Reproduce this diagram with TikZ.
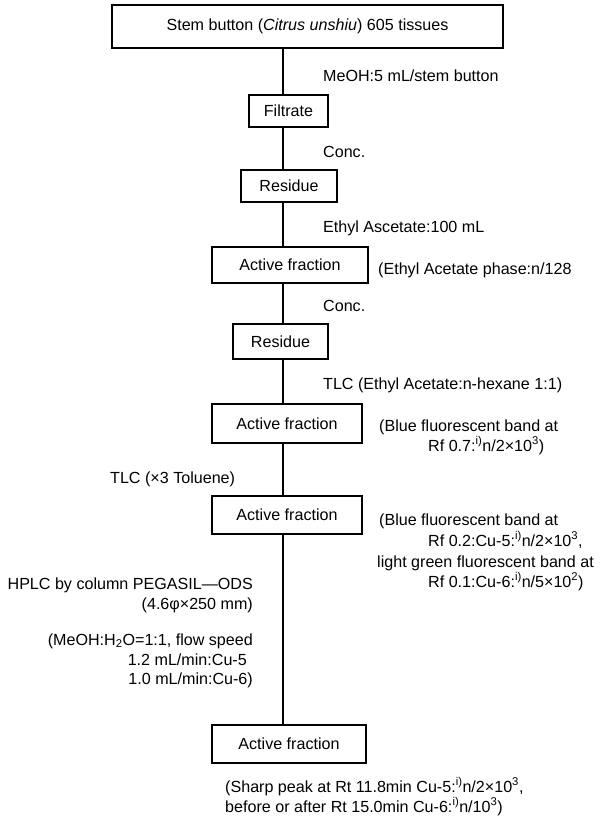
\documentclass[tikz,border=0pt]{standalone}
\usepackage{fontspec}
\setmainfont{Liberation Sans}
\begin{document}
\begin{tikzpicture}[x=1pt,y=-1pt,
  font=\fontsize{16.1}{19.5}\selectfont,
  box/.style={draw,line width=1.2pt,inner sep=0pt,align=center},
  conn/.style={line width=1.1pt},
  lbl/.style={inner sep=0pt,anchor=base west},
  lblr/.style={inner sep=0pt,anchor=base east}]
\useasboundingbox (0,0) rectangle (599,818);
\coordinate (spine) at (283,0);
% boxes
\node[box,minimum width=391pt,minimum height=43pt] (b1) at (307.5,26.5) {Stem button (\textit{Citrus unshiu}) 605 tissues};
\node[box,minimum width=79pt,minimum height=32pt] (b2) at (288.5,111) {Filtrate};
\node[box,minimum width=96pt,minimum height=32pt] (b3) at (289,186) {Residue};
\node[box,minimum width=156pt,minimum height=36pt] (b4) at (290,265) {Active fraction};
\node[box,minimum width=95pt,minimum height=35pt] (b5) at (280.5,341.5) {Residue};
\node[box,minimum width=150pt,minimum height=39pt] (b6) at (287,423.5) {Active fraction};
\node[box,minimum width=150pt,minimum height=38pt] (b7) at (287,515) {Active fraction};
\node[box,minimum width=154pt,minimum height=38pt] (b8) at (289,744) {Active fraction};
% connectors
\draw[conn] (b1.south -| spine) -- (b2.north -| spine);
\draw[conn] (b2.south -| spine) -- (b3.north -| spine);
\draw[conn] (b3.south -| spine) -- (b4.north -| spine);
\draw[conn] (b4.south -| spine) -- (b5.north -| spine);
\draw[conn] (b5.south -| spine) -- (b6.north -| spine);
\draw[conn] (b6.south -| spine) -- (b7.north -| spine);
\draw[conn] (b7.south -| spine) -- (b8.north -| spine);
% labels
\node[lbl] (l1) at (323,82) {MeOH:5 mL/stem button};
\node[lbl] (l2) at (323,158) {Conc.};
\node[lbl] (l3) at (323,233) {Ethyl Ascetate:100 mL};
\node[lbl] (l4) at (378,274) {(Ethyl Acetate phase:n/128};
\node[lbl] (l5) at (323,311) {Conc.};
\node[lbl] (l6) at (323,389) {TLC (Ethyl Acetate:n-hexane 1:1)};
\node[lbl] (l7a) at (379,431) {(Blue fluorescent band at};
\node[lbl] (l7b) at (428,451) {Rf 0.7:\textsuperscript{i)}n/2×10\textsuperscript{3})};
\node[lbl] (l8) at (110,483) {TLC (×3 Toluene)};
\node[lbl] (l9a) at (379,525) {(Blue fluorescent band at};
\node[lbl] (l9b) at (428,546) {Rf 0.2:Cu-5:\textsuperscript{i)}n/2×10\textsuperscript{3},};
\node[lbl] (l9c) at (377,567) {light green fluorescent band at};
\node[lbl] (l9d) at (428,587) {Rf 0.1:Cu-6:\textsuperscript{i)}n/5×10\textsuperscript{2})};
\node[lblr] (l10a) at (253,589) {HPLC by column PEGASIL—ODS};
\node[lblr] (l10b) at (253,609) {(4.6φ×250 mm)};
\node[lblr] (l11a) at (253,645) {(MeOH:H\textsubscript{2}O=1:1, flow speed};
\node[lblr] (l11b) at (247,665) {1.2 mL/min:Cu-5};
\node[lblr] (l11c) at (253,684) {1.0 mL/min:Cu-6)};
\node[lbl] (l12a) at (225,792) {(Sharp peak at Rt 11.8min Cu-5:\textsuperscript{i)}n/2×10\textsuperscript{3},};
\node[lbl] (l12b) at (225,812) {before or after Rt 15.0min Cu-6:\textsuperscript{i)}n/10\textsuperscript{3})};
\end{tikzpicture}
\end{document}
